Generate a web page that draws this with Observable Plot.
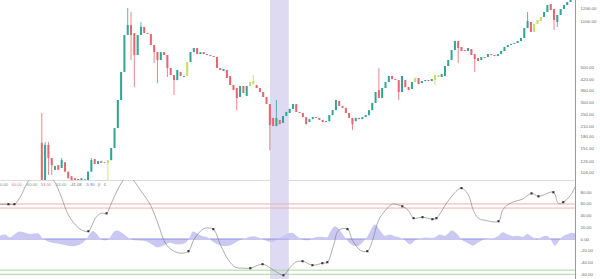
<!DOCTYPE html>
<html><head><meta charset="utf-8">
<script src="https://cdn.jsdelivr.net/npm/d3@7"></script>
<script src="https://cdn.jsdelivr.net/npm/@observablehq/plot@0.6"></script>
<style>
body{margin:0;background:#fff;}
#chart{position:relative;width:600px;height:279px;overflow:hidden;background:#fff;font-family:"Liberation Sans",Arial,sans-serif;}
#price{position:absolute;left:0;top:0;}
#osc{position:absolute;left:0;top:180px;}
#legend{position:absolute;left:0;top:182.3px;font-size:4.2px;line-height:5px;white-space:nowrap;}
#legend span{margin-right:3.4px;}
</style></head><body>
<div id="chart"><div id="price"></div><div id="osc"></div><div id="legend"></div></div>
<script>
// ---- data ----
const barCount = 174;
const firstBar = 12;
const opens = [
164,94.5,159,131,110,118,113,123,107,100,
97,96,94.5,96,94.5,107,129,120,125,122,
122,127,152,204,309,468,808,937,833,601,
808,910,833,820,697,628,558,628,601,496,
447,415,468,434,441,542,628,667,610,628,
610,601,592,584,496,475,482,441,386,369,
323,380,328,380,391,386,369,348,323,291,
237,210,230,220,244,255,271,291,259,255,
240,223,233,240,237,230,223,226,247,266,
305,283,275,255,237,226,237,233,240,247,
266,296,358,318,369,403,441,421,415,348,
415,374,364,403,428,397,409,415,409,415,
447,434,441,511,558,647,740,677,647,638,
657,610,575,558,584,584,610,601,592,610,
638,677,697,708,718,740,773,896,980,845,
951,994,1056,1136,1279,1188,980,1087,1188,1260,
1317];
const closes = [
94.5,159,131,118,116,110,127,107,97,94.5,
93,94.5,97,95,107,127,120,125,122,123,
127,152,204,309,468,808,937,808,601,808,
910,833,820,697,628,558,628,601,496,447,
415,482,441,441,542,628,667,610,628,610,
601,592,584,496,482,489,428,386,358,318,
380,343,380,403,409,369,348,323,291,213,
210,237,216,244,259,271,291,259,255,240,
216,233,240,237,230,223,226,247,266,309,
283,275,255,237,216,237,233,240,247,266,
296,348,318,369,403,441,421,415,348,441,
374,358,403,428,391,409,415,409,421,447,
434,454,511,558,647,740,667,638,638,667,
601,567,550,584,575,610,601,592,610,638,
677,697,708,718,740,773,896,994,845,951,
1009,1056,1136,1260,1170,1009,1087,1188,1260,1317,
1419];
const wickHighs = [[12,255],[13,166],[14,166],[18,131],[27,131],[38,1205],[39,1136],[42,980],[76,447],[83,309],[114,496],[159,1136]];
const wickLows = [[12,92],[13,92],[14,102],[15,102],[32,94.5],[39,558],[40,374],[46,534],[47,397],[50,434],[52,333],[71,266],[81,147],[106,198],[120,309],[131,386],[138,534],[143,468],[167,870],[168,910]];
const highlightBars = [32,56,75,76,125,131,132,161,162,163];
const priceTicks = [1200,1000,840,720,600,500,420,360,300,250,210,180,151,126,106];

const oscBar = [0,2.4,4.2,6.1,8.2,12,16,18.2,20.3,22.7,24.8,26.6,28.7,30.3,32.1,33.3,35.7,37.2,38.7,40.2,42.4,45.4,47.8,49.9,52.0,54.5,56.9,58.4,60.5,62.0,64.4,66.6,69.0,71.1,73.5,75.6,79.3,81.7,84.1,85.6,87.7,89.3,91.4,94.4,97.4,98.9,100.8,102.3,105.0,106.5,108.9,111.0,112.6,114.4,116.5,118.6,121.6,123.4,125.0,127.7,130.7,131.9,134.6,136.8,139.5,141.6,143.1,144.6,146.7,150.7,151.9,153.7,155.8,157.9,160.7,162.8,167.3,168.8,170.3,172.5,174];
const oscVal = [59.5,59.5,59.5,73,97,118,100.5,75,44,24,15,13.5,35.7,44,44,58,87,100.5,108,100.5,83,58,24,-7,-19,-24,-20.6,-2,13.5,18.6,17,-10.4,-36,-48,-49.6,-49.6,-42.8,-49.6,-58,-61.6,-48,-39.4,-37.7,-44.5,-41.1,-39.4,-10.4,15,17,-2,-19,-20.6,-2,32,49,59.5,56,49,35.7,37.4,34,35.7,58,75,87,75,49,35.7,32,30.5,49,59.5,64.7,68,78,73,80,61,63,75,90];
const pivotBar = [2.4,4.2,26.6,32.1,56.9,64.4,75.6,79.3,85.6,91.4,94.4,97.4,98.9,105.0,111.0,121.6,125.0,127.7,130.7,131.9,139.5,150.7,160.7,162.8,167.3,170.3];
const pivotVal = [59.5,59.5,13.5,44,-20.6,17,-49.6,-42.8,-61.6,-37.7,-44.5,-41.1,-39.4,17,-20.6,56,35.7,37.4,34,35.7,87,30.5,78,73,80,63];
const histBar = [0,1.5,3,4.5,6.1,7.6,9.1,11.5,13,14.5,16.6,18.8,21.8,24.2,26,27.2,28.1,29.3,30.6,31.8,33.3,34.2,35.4,36.9,38.7,40.8,43.9,46,47.5,49.3,51.4,53.6,56,57.2,58.4,59.9,61.4,62.9,64.1,66,68.1,70.2,72.6,74.1,76.6,78.7,80.8,82.3,83.8,85.6,88.4,89.9,91.7,93.2,94.7,96.8,98.9,99.8,101.4,102.9,104.4,105.9,108,109.8,111.3,113.5,115,116.5,118,119.5,121,122.5,124.1,125.6,127.1,129.2,131,133.1,134.6,136.8,138.3,139.8,141.6,143.1,144.6,146.7,148.9,150.4,152.2,153.7,155.2,156.7,158.2,159.5,161,162.5,164,165.5,166.7,167.9,169.1,170.3,171.9,173.1,174];
const histVal = [5,7,2,8,12,10,8,9,0,-5,-8,-10,-13,-10,-2,8,13,8,-1,-3,2,10,14,10,2,-3,-4,-10,-15,-12,-7,-10,-8,0,12,8,4,2,-4,-10,-13,-10,-3,0,4,1,-4,-6,-2,5,10,4,-2,-3,1,3,2,10,21,14,2,-8,-13,-6,5,24,14,5,7,4,2,-3,-10,-3,0,2,1,7,5,14,8,-2,-8,-12,-7,-1,0,3,11,7,4,5,3,8,3,-2,3,5,-2,-12,-4,4,8,10,9];
const oscTicks = [80,60,40,20,0,-20,-40,-60];
const oscTop = 100;
const upperLevels = [60,53];
const lowerLevels = [-53,-60];
const bandBars = [81.7,87.4];
const legendTexts = ["0.00","60.00","-60.00","53.00","-53.00","-41.08","-5.90","β","¢"];
const legendColors = ["#8a8a8a","#e07a7a","#6aa86a","#e07a7a","#6aa86a","#707070","#6b6bd6","#888","#888"];

// ---- build tables ----
const hiMap = new Map(wickHighs), loMap = new Map(wickLows);
const palette = {up:"#2fa595", down:"#e6656f", hl:"#c4dd62"};
const candles = opens.map((o,k) => {
  const bar = firstBar + k, c = closes[k];
  const kind = highlightBars.includes(bar) ? "hl" : (c >= o ? "up" : "down");
  return {bar, open:o, close:c, high: hiMap.get(bar) ?? Math.max(o,c), low: loMap.get(bar) ?? Math.min(o,c), color: palette[kind]};
});
const osc = oscBar.map((b,i) => ({bar:b, v:oscVal[i]}));
const pivots = pivotBar.map((b,i) => ({bar:b, v:pivotVal[i]}));
const hist = histBar.map((b,i) => ({bar:b, v:histVal[i]}));
const fmt = d => d.toFixed(2);
const font = "Liberation Sans, Arial, sans-serif";

const price = Plot.plot({
  width:600, height:180, marginTop:0, marginBottom:0, marginLeft:0, marginRight:25,
  style:{background:"transparent", fontFamily:font},
  x:{domain:[0,barCount], axis:null},
  y:{type:"log", domain:[94.6,1357], axis:null},
  color:{type:"identity"},
  marks:[
    Plot.barX([bandBars], {x1:d=>d[0], x2:d=>d[1], fill:"#dfdaf4"}),
    Plot.ruleX(candles, {x:d=>d.bar+0.5, y1:"low", y2:"high", stroke:"color", strokeWidth:0.8, clip:true}),
    Plot.ruleX(candles, {x:d=>d.bar+0.5, y1:"open", y2:"close", stroke:"color", strokeWidth:2.0, clip:true}),
    Plot.ruleX([barCount], {stroke:"#9a9a9a"}),
    Plot.axisY(priceTicks, {anchor:"right", label:null, tickSize:0, tickPadding:5, fontSize:4.4, fill:"#6a6a6a", tickFormat:fmt})
  ]
});
document.getElementById("price").appendChild(price);

const oscPlot = Plot.plot({
  width:600, height:99, marginTop:0, marginBottom:0, marginLeft:0, marginRight:25,
  style:{background:"transparent", fontFamily:font},
  x:{domain:[0,barCount], axis:null},
  y:{domain:[-68.9,oscTop], axis:null},
  marks:[
    Plot.barX([bandBars], {x1:d=>d[0], x2:d=>d[1], fill:"#dfdaf4"}),
    Plot.ruleY([oscTop], {stroke:"#dcdcdc"}),
    Plot.areaY(hist, {x:"bar", y:"v", fill:"#cbc9f2", curve:"monotone-x"}),
    Plot.ruleY([0], {stroke:"#8c8ce2", strokeWidth:0.8}),
    Plot.ruleY(upperLevels, {stroke:"#ebb2b2"}),
    Plot.ruleY(lowerLevels, {stroke:"#a8d6a4"}),
    Plot.line(osc, {x:"bar", y:"v", stroke:"#767a6e", strokeWidth:0.6, curve:"catmull-rom", clip:true}),
    Plot.dot(pivots, {x:"bar", y:"v", symbol:"square", r:1.2, fill:"#333"}),
    Plot.ruleX([barCount], {stroke:"#9a9a9a"}),
    Plot.axisY(oscTicks, {anchor:"right", label:null, tickSize:0, tickPadding:5, fontSize:4.4, fill:"#6a6a6a", tickFormat:fmt})
  ]
});
document.getElementById("osc").appendChild(oscPlot);

const legend = document.getElementById("legend");
legendTexts.forEach((t,i) => {
  const s = document.createElement("span");
  s.textContent = t; s.style.color = legendColors[i];
  legend.appendChild(s);
});
</script>
</body></html>
